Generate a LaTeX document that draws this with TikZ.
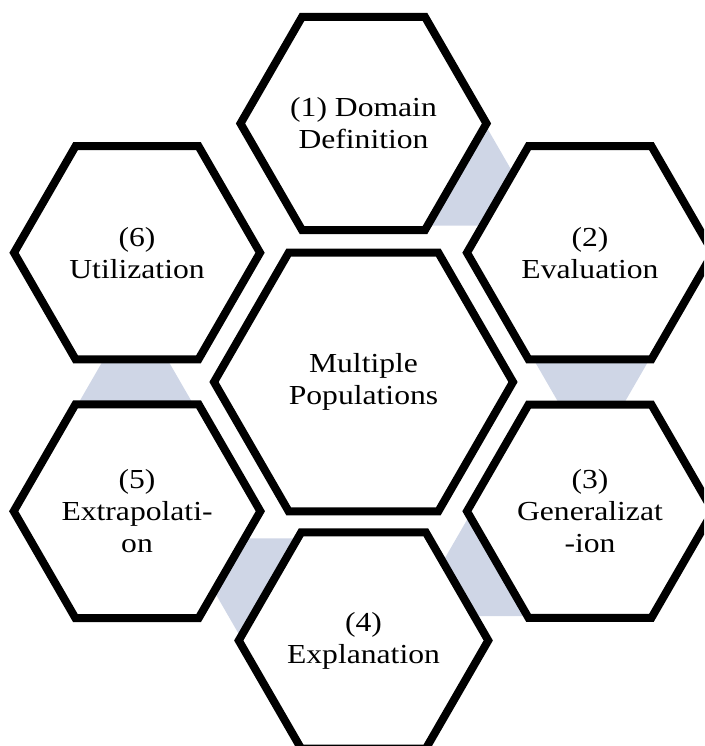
\documentclass[tikz,border=0pt]{standalone}
\usepackage{fontspec}
\setmainfont{Liberation Serif}[FakeStretch=1.15]
\usepackage{tikz}
\usetikzlibrary{calc,shapes,backgrounds}
\usepackage{color}

\begin{document}
\begin{tikzpicture}[x=1pt,y=1pt,
  hexa/.style={regular polygon,regular polygon sides=6,minimum size=246pt,inner sep=0pt,
    draw=black,line width=8pt,fill=white,align=center,font=\fontsize{27.5}{32}\selectfont},
  link/.style={fill={rgb,255:red,207;green,214;blue,230}}]

\useasboundingbox (0,0) rectangle (704,746);
\clip (0,0) rectangle (704,746);

\node [hexa,minimum size=299pt] (c) at (363.5,364) {Multiple\\Populations};

\def\steps{1/90/{(1) Domain\\Definition},2/30/{(2)\\Evaluation},3/-30/{(3)\\Generalizat\\-ion},
  4/-90/{(4)\\Explanation},5/-150/{(5)\\Extrapolati-\\on},6/150/{(6)\\Utilization}}
\foreach \i / \a / \txt in \steps
  \node [hexa] (h\i) at ($(c)+(\a:261.5 and 258.5)$) {\txt};

\begin{pgfonlayer}{background}
\foreach \i [count=\k from 0] in {1,...,5}
  \fill [link] ($(h\i)+(-60*\k:121)$) -- ++(-60*\k-120:118) -- ++(-60*\k:118) -- cycle;
\end{pgfonlayer}

\end{tikzpicture}
\end{document}
